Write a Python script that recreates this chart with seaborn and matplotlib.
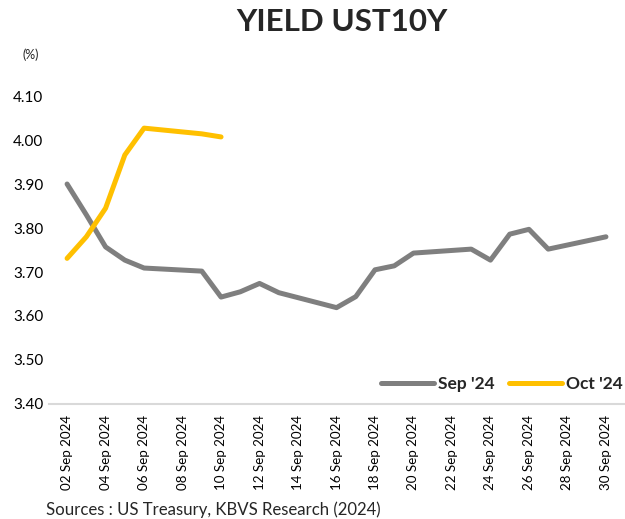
import matplotlib
matplotlib.use("Agg")
import matplotlib.pyplot as plt
import matplotlib.dates as mdates
import seaborn as sns
import pandas as pd
import numpy as np

# ---- data ----
sep_dates = ["2024-09-02", "2024-09-03", "2024-09-04", "2024-09-05", "2024-09-06",
             "2024-09-09", "2024-09-10", "2024-09-11", "2024-09-12", "2024-09-13",
             "2024-09-16", "2024-09-17", "2024-09-18", "2024-09-19", "2024-09-20",
             "2024-09-23", "2024-09-24", "2024-09-25", "2024-09-26", "2024-09-27",
             "2024-09-30"]
sep_values = [3.90, 3.83, 3.757, 3.727, 3.709, 3.702, 3.643, 3.655, 3.674, 3.653,
              3.619, 3.644, 3.705, 3.714, 3.743, 3.752, 3.727, 3.786, 3.797, 3.752,
              3.780]
oct_dates = ["2024-09-02", "2024-09-03", "2024-09-04", "2024-09-05", "2024-09-06",
             "2024-09-09", "2024-09-10"]
oct_values = [3.731, 3.780, 3.845, 3.966, 4.027, 4.014, 4.007]
series_names = ["Sep '24", "Oct '24"]
tick_dates = pd.date_range("2024-09-02", "2024-09-30", freq="2D")

df = pd.concat([
    pd.DataFrame({"date": pd.to_datetime(sep_dates), "yield": sep_values, "series": series_names[0]}),
    pd.DataFrame({"date": pd.to_datetime(oct_dates), "yield": oct_values, "series": series_names[1]}),
])

sns.set_style("white")
plt.rcParams["font.family"] = ["Lato", "DejaVu Sans"]

fig = plt.figure(figsize=(6.25, 5.19), dpi=100)
ax = fig.add_axes([0.0784, 0.2216, 0.9216, 0.5934])

sns.lineplot(data=df, x="date", y="yield", hue="series",
             palette={series_names[0]: "#7f7f7f", series_names[1]: "#ffc000"},
             linewidth=3.6, ax=ax, sort=False)

ax.set_ylim(3.40, 4.10)
ax.set_yticks(np.arange(3.40, 4.101, 0.10))
ax.set_yticklabels([f"{v:.2f}" for v in np.arange(3.40, 4.101, 0.10)], fontsize=11)
start = pd.Timestamp("2024-09-02")
end = pd.Timestamp("2024-09-30")
ax.set_xlim(mdates.date2num(start) - 0.94, mdates.date2num(end) + 0.99)
ax.set_xticks(tick_dates)
ax.set_xticklabels([d.strftime("%d %b %Y") for d in tick_dates], rotation=90, fontsize=9.6)
ax.set_xlabel("")
ax.set_ylabel("")
for s in ["top", "right", "left"]:
    ax.spines[s].set_visible(False)
ax.spines["bottom"].set_color("#d9d9d9")
ax.spines["bottom"].set_linewidth(1.5)
ax.tick_params(axis="both", length=0, pad=4, colors="black")
ax.tick_params(axis="x", pad=8)

leg = ax.legend(loc="center right", bbox_to_anchor=(0.997, 0.260),
                bbox_transform=fig.transFigure, ncol=2, frameon=False,
                handlelength=3.05, columnspacing=0.86, handletextpad=0.23,
                borderpad=0, borderaxespad=0,
                prop={"weight": "bold", "size": 12.5})

fig.text(0.547, 0.958, "YIELD UST10Y", ha="center", va="center",
         fontsize=22.6, fontweight="bold")
fig.text(0.049, 0.894, "(%)", ha="center", va="center", fontsize=9)
fig.text(0.0736, 0.017, "Sources : US Treasury, KBVS Research (2024)",
         ha="left", va="center", fontsize=12.1)

fig.savefig("out.png", dpi=100)
